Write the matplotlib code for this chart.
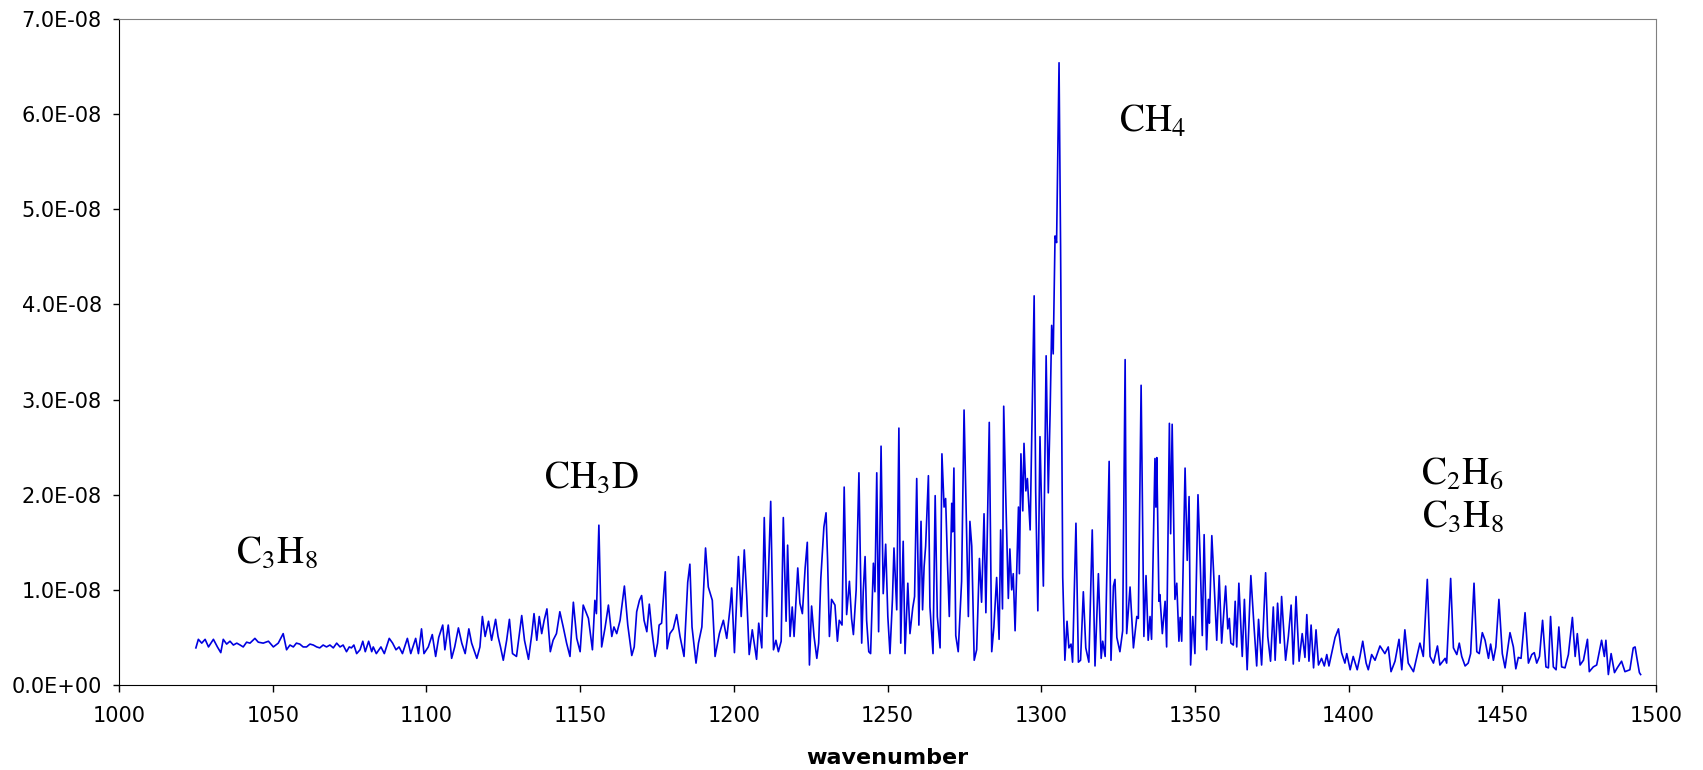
import matplotlib
matplotlib.use('Agg')
import matplotlib.pyplot as plt
from matplotlib.ticker import FuncFormatter, MultipleLocator

# spectrum: wavenumber and intensity (units of 1e-9)
wavenumber = [
    1025.0, 1025.8, 1026.9, 1028.0, 1029.1, 1030.7, 1032.0, 1033.1, 1033.9, 1035.0,
    1036.1, 1037.2, 1038.3, 1039.4, 1040.4, 1041.5, 1042.6, 1044.2, 1045.3, 1046.9,
    1048.6, 1050.2, 1051.8, 1053.4, 1054.5, 1055.6, 1056.7, 1057.7, 1058.8, 1059.9,
    1061.0, 1062.1, 1063.2, 1064.3, 1065.3, 1066.4, 1067.5, 1068.6, 1069.7, 1070.8,
    1071.9, 1072.9, 1074.0, 1074.9, 1075.6, 1076.4, 1077.3, 1078.4, 1079.3, 1080.1,
    1081.2, 1082.2, 1082.7, 1083.7, 1085.2, 1086.3, 1087.9, 1089.0, 1090.1, 1091.1,
    1092.2, 1093.8, 1094.9, 1096.5, 1097.4, 1098.4, 1099.2, 1100.6, 1101.9, 1103.0,
    1104.0, 1105.3, 1106.0, 1107.1, 1108.2, 1109.2, 1110.4, 1111.5, 1112.6, 1113.8,
    1114.7, 1116.4, 1117.4, 1118.2, 1119.1, 1120.2, 1121.2, 1122.5, 1123.3, 1124.1,
    1125.0, 1126.1, 1127.0, 1128.0, 1129.3, 1131.0, 1131.9, 1133.2, 1134.3, 1135.0,
    1135.9, 1136.7, 1137.5, 1138.3, 1139.2, 1140.3, 1141.2, 1142.3, 1143.4, 1144.5,
    1145.6, 1146.7, 1147.8, 1148.9, 1150.0, 1151.0, 1152.7, 1154.0, 1154.8, 1155.3,
    1156.1, 1157.0, 1158.1, 1159.2, 1160.3, 1161.0, 1161.9, 1163.0, 1164.4, 1165.5,
    1166.8, 1167.6, 1168.4, 1169.3, 1170.0, 1170.8, 1171.7, 1172.5, 1173.3, 1174.4,
    1175.2, 1175.7, 1176.5, 1177.7, 1178.3, 1179.2, 1180.3, 1181.4, 1182.5, 1183.8,
    1185.0, 1185.7, 1186.4, 1187.7, 1188.5, 1189.6, 1190.8, 1191.7, 1193.0, 1193.9,
    1195.3, 1196.6, 1197.7, 1198.8, 1199.3, 1200.2, 1201.5, 1202.4, 1203.4, 1204.2,
    1205.0, 1206.0, 1207.4, 1208.1, 1209.1, 1209.9, 1210.7, 1211.2, 1212.0, 1212.9,
    1213.7, 1214.5, 1215.4, 1216.1, 1217.0, 1217.5, 1218.3, 1219.0, 1219.6, 1220.8,
    1221.5, 1222.3, 1223.2, 1223.9, 1224.6, 1225.3, 1226.1, 1227.0, 1227.6, 1228.3,
    1229.3, 1230.0, 1230.5, 1231.1, 1231.8, 1232.9, 1233.7, 1234.3, 1235.2, 1235.9,
    1236.7, 1237.6, 1238.3, 1238.9, 1239.8, 1240.7, 1241.6, 1242.1, 1242.7, 1243.2,
    1243.9, 1244.5, 1245.4, 1245.9, 1246.5, 1247.1, 1247.9, 1248.6, 1249.4, 1250.1,
    1250.8, 1251.6, 1252.1, 1253.0, 1253.7, 1254.3, 1255.1, 1255.7, 1256.6, 1257.3,
    1258.2, 1258.8, 1259.5, 1260.2, 1260.9, 1261.4, 1261.9, 1262.4, 1263.3, 1263.8,
    1264.8, 1265.5, 1266.2, 1267.1, 1267.7, 1268.4, 1268.9, 1269.5, 1270.1, 1270.9,
    1271.2, 1271.6, 1272.2, 1273.0, 1274.1, 1274.9, 1276.3, 1276.8, 1277.4, 1278.2,
    1279.0, 1279.9, 1280.6, 1281.4, 1282.0, 1283.1, 1283.9, 1284.6, 1285.5, 1286.3,
    1286.8, 1287.4, 1287.8, 1288.4, 1289.3, 1289.8, 1290.4, 1290.9, 1291.5, 1292.6,
    1292.9, 1293.4, 1294.0, 1294.4, 1295.0, 1295.5, 1296.4, 1297.7, 1298.2, 1298.9,
    1299.6, 1300.7, 1301.6, 1302.3, 1302.9, 1303.4, 1303.9, 1304.5, 1305.0, 1305.8,
    1306.3, 1307.0, 1307.7, 1308.4, 1309.0, 1309.7, 1310.2, 1311.3, 1312.1, 1312.8,
    1313.7, 1314.5, 1315.5, 1316.6, 1317.5, 1318.6, 1319.5, 1320.0, 1320.8, 1322.1,
    1322.7, 1323.5, 1324.0, 1324.6, 1325.6, 1326.5, 1327.3, 1327.8, 1328.9, 1330.0,
    1331.1, 1331.6, 1332.5, 1333.4, 1334.1, 1334.8, 1335.4, 1335.9, 1337.0, 1337.3,
    1337.6, 1338.3, 1338.6, 1339.4, 1340.3, 1340.8, 1341.7, 1342.1, 1342.6, 1343.5,
    1344.1, 1344.8, 1345.2, 1345.7, 1346.8, 1347.5, 1348.1, 1348.6, 1349.3, 1350.0,
    1351.0, 1351.7, 1352.4, 1353.0, 1353.8, 1354.4, 1354.7, 1355.5, 1356.0, 1357.1,
    1357.9, 1358.7, 1360.0, 1360.7, 1361.2, 1361.7, 1362.5, 1363.1, 1363.6, 1364.3,
    1365.4, 1366.1, 1367.0, 1368.2, 1369.2, 1370.1, 1370.7, 1371.7, 1373.0, 1373.7,
    1374.6, 1375.5, 1376.1, 1376.9, 1377.7, 1378.2, 1379.5, 1380.4, 1381.3, 1382.0,
    1382.9, 1383.9, 1384.9, 1385.8, 1386.4, 1387.1, 1387.8, 1388.6, 1389.4, 1390.2,
    1391.2, 1392.1, 1392.9, 1393.6, 1395.6, 1396.7, 1397.7, 1398.8, 1399.4, 1400.5,
    1401.5, 1402.8, 1403.7, 1404.6, 1405.7, 1406.4, 1407.5, 1408.6, 1410.2, 1411.8,
    1412.9, 1413.8, 1415.1, 1416.4, 1417.3, 1418.3, 1419.4, 1421.1, 1422.5, 1423.2,
    1424.3, 1425.6, 1426.5, 1427.6, 1428.9, 1429.7, 1431.4, 1431.9, 1433.2, 1434.1,
    1435.2, 1436.0, 1436.8, 1437.9, 1438.9, 1439.7, 1440.8, 1441.7, 1442.5, 1443.5,
    1444.4, 1445.5, 1446.2, 1447.1, 1447.9, 1448.9, 1450.0, 1450.9, 1452.5, 1453.6,
    1454.4, 1455.2, 1456.1, 1457.4, 1458.5, 1459.6, 1460.4, 1461.2, 1462.1, 1463.1,
    1464.2, 1465.0, 1465.7, 1466.6, 1467.5, 1468.4, 1469.3, 1470.4, 1471.5, 1472.8,
    1473.7, 1474.4, 1475.3, 1476.4, 1477.7, 1478.3, 1479.6, 1480.7, 1482.3, 1483.2,
    1483.7, 1484.5, 1485.4, 1486.5, 1487.4, 1488.8, 1489.9, 1491.5, 1492.6, 1493.2,
    1493.7, 1494.6, 1495.0,
]

intensity = [
    3.9, 4.8, 4.4, 4.8, 4.0, 4.8, 4.0, 3.4, 4.8, 4.3,
    4.6, 4.2, 4.4, 4.2, 4.0, 4.5, 4.4, 4.9, 4.5, 4.4,
    4.6, 4.0, 4.4, 5.4, 3.7, 4.2, 4.0, 4.4, 4.3, 4.0,
    4.0, 4.3, 4.2, 4.0, 3.9, 4.2, 4.0, 4.2, 3.9, 4.4,
    4.0, 4.2, 3.5, 4.0, 3.9, 4.2, 3.3, 3.7, 4.6, 3.5,
    4.6, 3.5, 4.0, 3.3, 4.0, 3.3, 4.9, 4.4, 3.7, 4.0,
    3.3, 4.9, 3.3, 4.9, 3.3, 5.9, 3.3, 4.0, 5.3, 3.0,
    5.0, 6.3, 3.7, 6.3, 2.8, 4.0, 6.0, 4.4, 3.3, 5.9,
    4.4, 2.8, 4.0, 7.2, 5.1, 6.7, 4.7, 6.9, 5.1, 4.0,
    2.6, 4.7, 6.9, 3.3, 3.0, 7.3, 4.7, 2.7, 5.4, 7.5,
    4.7, 7.2, 5.4, 6.8, 8.0, 3.5, 4.7, 5.4, 7.7, 6.1,
    4.4, 3.0, 8.7, 4.9, 3.5, 8.4, 7.0, 3.7, 8.9, 7.5,
    16.8, 4.0, 6.0, 8.4, 5.1, 6.1, 5.4, 6.8, 10.4, 6.3,
    3.1, 4.0, 7.7, 8.9, 9.4, 6.8, 5.6, 8.5, 5.8, 3.0,
    4.4, 6.3, 6.5, 11.9, 3.8, 5.4, 5.9, 7.4, 5.1, 3.0,
    10.8, 12.7, 6.1, 2.3, 4.4, 6.1, 14.4, 10.3, 8.9, 3.0,
    5.4, 6.8, 4.9, 8.2, 10.2, 3.4, 13.5, 7.2, 14.2, 9.3,
    3.2, 5.8, 2.7, 6.5, 3.9, 17.6, 7.2, 11.0, 19.3, 3.7,
    4.7, 3.5, 4.6, 17.6, 6.7, 14.7, 5.1, 8.2, 5.1, 12.3,
    8.6, 7.5, 12.3, 15.0, 2.1, 8.3, 5.1, 2.8, 4.4, 11.2,
    16.6, 18.1, 13.2, 5.1, 9.0, 8.4, 4.6, 6.8, 6.3, 20.8,
    7.4, 10.9, 7.0, 5.3, 10.0, 22.3, 4.4, 9.8, 13.5, 6.8,
    3.5, 3.3, 12.8, 9.8, 22.3, 5.6, 25.1, 9.6, 14.8, 7.2,
    3.3, 9.0, 14.4, 7.9, 27.0, 4.4, 15.1, 3.3, 10.7, 5.4,
    8.1, 9.3, 21.7, 6.3, 17.2, 7.9, 12.4, 14.6, 22.0, 8.2,
    3.3, 19.9, 7.2, 3.9, 24.3, 18.7, 19.6, 13.0, 7.2, 19.1,
    16.1, 22.8, 5.2, 3.5, 10.9, 28.9, 7.2, 17.2, 14.6, 2.6,
    3.7, 13.3, 8.7, 18.0, 7.6, 27.6, 3.5, 6.1, 11.3, 4.8,
    16.3, 8.0, 29.3, 20.7, 9.1, 14.3, 10.0, 11.7, 5.7, 18.7,
    11.7, 24.3, 18.3, 25.4, 20.4, 21.7, 16.3, 40.9, 20.4, 7.8,
    26.1, 10.4, 34.6, 20.2, 28.7, 37.8, 34.8, 47.2, 46.5, 65.4,
    46.1, 11.3, 2.6, 6.7, 3.9, 4.3, 2.4, 17.0, 2.4, 2.6,
    9.8, 3.9, 2.4, 16.3, 2.0, 11.7, 2.8, 4.6, 3.0, 23.5,
    2.6, 10.4, 11.1, 5.0, 3.5, 5.7, 34.2, 5.4, 10.3, 3.9,
    7.2, 7.0, 31.5, 5.1, 11.5, 4.7, 7.2, 4.8, 23.8, 18.7,
    23.9, 8.8, 9.5, 5.4, 8.8, 4.0, 27.5, 15.9, 27.4, 9.0,
    10.7, 4.6, 7.1, 4.6, 22.8, 13.1, 19.8, 2.1, 7.2, 3.3,
    20.0, 13.3, 5.2, 15.8, 3.7, 9.0, 6.5, 15.7, 12.4, 4.7,
    11.5, 4.4, 10.4, 5.9, 7.0, 4.4, 4.2, 8.8, 4.0, 10.7,
    3.0, 9.0, 1.6, 11.5, 6.3, 2.0, 6.9, 2.1, 11.8, 5.1,
    2.5, 8.2, 2.6, 8.6, 4.4, 9.3, 2.6, 5.1, 8.4, 2.2,
    9.3, 2.5, 5.4, 2.9, 7.4, 2.5, 6.3, 1.8, 5.8, 2.1,
    2.8, 2.0, 3.2, 2.0, 5.0, 5.9, 3.4, 2.3, 3.3, 1.6,
    3.0, 1.6, 3.0, 4.6, 2.3, 1.6, 3.2, 2.6, 4.1, 3.3,
    4.0, 1.4, 2.5, 4.8, 1.6, 5.8, 2.3, 1.4, 3.4, 4.4,
    3.0, 11.1, 3.0, 2.3, 4.1, 2.1, 2.8, 2.3, 11.2, 3.9,
    3.2, 4.4, 3.0, 2.0, 2.3, 3.3, 10.7, 3.5, 3.3, 5.5,
    4.7, 2.8, 4.3, 2.6, 4.0, 9.0, 3.3, 1.8, 5.5, 4.0,
    1.7, 2.9, 2.8, 7.6, 2.3, 3.2, 3.4, 2.3, 3.0, 6.8,
    1.9, 1.8, 7.2, 1.9, 1.6, 6.1, 1.9, 1.8, 3.2, 7.1,
    3.0, 5.4, 2.1, 2.6, 4.8, 1.4, 1.9, 2.1, 4.7, 3.0,
    4.7, 1.1, 3.3, 1.3, 1.8, 2.5, 1.4, 1.6, 3.9, 4.0,
    3.0, 1.3, 1.1,
]

# labels: text, wavenumber (centre), intensity (baseline, 1e-9)
labels = [r'$\mathrm{C_3H_8}$', r'$\mathrm{CH_3D}$', r'$\mathrm{CH_4}$',
          r'$\mathrm{C_2H_6}$', r'$\mathrm{C_3H_8}$']
label_x = [1051.4, 1153.9, 1336.4, 1437.1, 1437.1]
label_y = [12.9, 20.8, 58.2, 21.2, 16.6]


def make_plot():
    plt.rcParams['mathtext.fontset'] = 'stix'
    fig = plt.figure(figsize=(17.03, 7.70), dpi=100)
    ax = fig.add_axes([0.0699, 0.1104, 0.9025, 0.8649])

    ax.plot(wavenumber, [v * 1e-9 for v in intensity], color='#0000e0', lw=1.2)

    for txt, x, y in zip(labels, label_x, label_y):
        ax.text(x, y * 1e-9, txt, ha='center', va='baseline', fontsize=27)

    ax.set_xlim(1000, 1500)
    ax.set_ylim(0, 7e-8)
    ax.xaxis.set_major_locator(MultipleLocator(50))
    ax.yaxis.set_major_locator(MultipleLocator(1e-8))
    ax.yaxis.set_major_formatter(FuncFormatter(lambda v, p: '{:.1E}'.format(v)))

    ax.tick_params(axis='both', direction='out', labelsize=15, width=1)
    ax.tick_params(axis='x', length=5, pad=10)
    ax.tick_params(axis='y', length=4.5, pad=8)

    for side in ['top', 'right']:
        ax.spines[side].set_color('#808080')
    ax.set_xlabel('wavenumber', fontsize=16, fontweight='bold', labelpad=16)

    fig.savefig('out.png', dpi=100)
    plt.close(fig)


if __name__ == '__main__':
    make_plot()
